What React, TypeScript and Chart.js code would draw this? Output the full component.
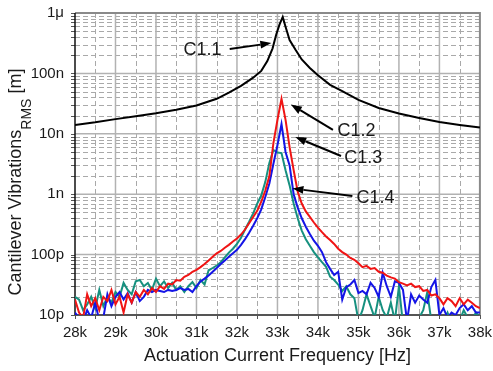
import React, { useEffect, useRef } from 'react';
import { Chart, registerables } from 'chart.js';

Chart.register(...registerables);

// ---------- data (frequency in kHz, vibration RMS in pm) ----------
const freqC11 = [28.0, 28.5, 29.0, 29.5, 30.0, 30.5, 31.0, 31.5, 31.8, 32.1, 32.4, 32.6, 32.75, 32.88, 32.97, 33.05, 33.13, 33.2, 33.3, 33.45, 33.6, 33.8, 34.0, 34.3, 34.6, 35.0, 35.5, 36.0, 36.5, 37.0, 37.5, 38.0];
const vibC11 = [14000, 15500, 17500, 19500, 21800, 25000, 29500, 38000, 48000, 62000, 85000, 110000, 160000, 260000, 440000, 640000, 860000, 590000, 357000, 244000, 170000, 123000, 93000, 64500, 51000, 36400, 26700, 21700, 18300, 15700, 14000, 12700];

const freqSweep = [
  28.0, 28.1, 28.2, 28.3, 28.4, 28.5, 28.6, 28.7, 28.8, 28.9,
  29.0, 29.1, 29.2, 29.3, 29.4, 29.5, 29.6, 29.7, 29.8, 29.9,
  30.0, 30.1, 30.2, 30.3, 30.4, 30.5, 30.6, 30.7, 30.8, 30.9,
  31.0, 31.1, 31.2, 31.3, 31.4, 31.5, 31.6, 31.7, 31.8, 31.9,
  32.0, 32.1, 32.2, 32.3, 32.4, 32.5, 32.6, 32.7, 32.8, 32.9,
  33.0, 33.1, 33.2, 33.3, 33.4, 33.5, 33.6, 33.7, 33.8, 33.9,
  34.0, 34.1, 34.2, 34.3, 34.4, 34.5, 34.6, 34.7, 34.8, 34.9,
  35.0, 35.1, 35.2, 35.3, 35.4, 35.5, 35.6, 35.7, 35.8, 35.9,
  36.0, 36.1, 36.2, 36.3, 36.4, 36.5, 36.6, 36.7, 36.8, 36.9,
  37.0, 37.1, 37.2, 37.3, 37.4, 37.5, 37.6, 37.7, 37.8, 37.9,
  38.0,
];

const vibC12 = [
  18, 11, 9, 22, 14, 19, 12, 20, 17, 26,
  15, 20, 11, 22, 16, 24, 20, 26, 22, 28,
  24, 30, 27, 33, 32, 38, 37, 43, 46, 52,
  56, 62, 70, 80, 92, 105, 115, 130, 145, 165,
  185, 215, 260, 330, 420, 530, 750, 1150, 2000, 7000,
  17000, 38000, 17000, 6000, 2500, 1100, 700, 520, 420, 340,
  280, 235, 200, 175, 150, 125, 110, 100, 88, 82,
  72, 62, 65, 58, 60, 52, 50, 45, 42, 40,
  35, 33, 31, 33, 29, 30, 25, 26, 21, 22,
  19, 15, 19, 17, 14, 19, 15, 18, 16, 14,
  13,
];

const vibC13 = [
  11, 9, 8, 12, 9, 16, 8, 9, 22, 14,
  20, 24, 18, 23, 16, 24, 17, 20, 26, 24,
  26, 25, 24, 26, 25, 26, 28, 26, 27, 24,
  30, 36, 40, 45, 52, 60, 70, 80, 92, 105,
  120, 145, 180, 230, 300, 400, 560, 900, 1500, 3200,
  6500, 14500, 5000, 3000, 1000, 600, 400, 290, 220, 170,
  140, 110, 75, 58, 46, 52, 18, 29, 32, 38,
  23, 25, 22, 34, 28, 20, 50, 30, 20, 36,
  34, 26, 8, 22, 16, 21, 18, 16, 29, 38,
  10, 13, 9, 11, 10, 13, 15, 12, 14, 11,
  11,
];

const vibC14 = [
  20, 18, 12, 15, 20, 13, 26, 14, 20, 16,
  24, 20, 34, 26, 22, 36, 38, 30, 34, 26,
  40, 30, 36, 28, 34, 26, 30, 24, 30, 35,
  28, 38, 32, 55, 60, 66, 75, 90, 108, 125,
  150, 190, 260, 350, 480, 700, 950, 1600, 3300, 5400,
  4900, 4800, 2500, 1400, 700, 400, 250, 180, 140, 110,
  90, 75, 63, 43, 38, 32, 25, 30, 22, 19,
  8, 12, 22, 14, 9, 20, 12, 9, 16, 8,
  30, 7, 9, 8, 7, 9, 12, 24, 8, 7,
  9, 8, 11, 7, 9, 8, 12, 9, 8, 11,
  9,
];

const seriesNames = ['C1.1', 'C1.2', 'C1.3', 'C1.4'];
const seriesColors = ['#000000', '#f01414', '#1414e6', '#16907f'];

const xMin = 28;
const xMax = 38;
const yMin = 10;
const yMax = 1e6;
const yTickValues = [10, 100, 1000, 10000, 100000, 1000000];
const yTickLabels = ['10p', '100p', '1n', '10n', '100n', '1\u03bc'];

const xTitle = 'Actuation Current Frequency [Hz]';
const yTitleMain = 'Cantilever Vibrations';
const yTitleSub = 'RMS';
const yTitleTail = ' [m]';

// annotation callouts, in data units (kHz, pm)
const callouts = [
  { label: 'C1.1', textF: 31.15, textV: 244000, fromF: 31.82, fromV: 253000, toF: 32.85, toV: 318000 },
  { label: 'C1.2', textF: 34.95, textV: 11100, fromF: 34.37, fromV: 11600, toF: 33.33, toV: 30500 },
  { label: 'C1.3', textF: 35.12, textV: 3970, fromF: 34.57, fromV: 4290, toF: 33.44, toV: 8850 },
  { label: 'C1.4', textF: 35.42, textV: 865, fromF: 34.85, fromV: 934, toF: 33.37, toV: 1242 },
];

const FONT = '"Liberation Sans", Arial, sans-serif';

const framePlugin = {
  id: 'framePlugin',
  beforeDatasetsDraw(chart: any) {
    const { ctx, chartArea } = chart;
    const xs = chart.scales.x;
    const ys = chart.scales.y;
    const { left, right, top, bottom } = chartArea;
    ctx.save();
    // minor dashed verticals
    ctx.lineWidth = 1;
    ctx.strokeStyle = '#a9a9a9';
    ctx.setLineDash([5, 3]);
    for (let f = xMin + 0.5; f < xMax; f += 1) {
      const px = Math.round(xs.getPixelForValue(f)) + 0.5;
      ctx.beginPath();
      ctx.moveTo(px, top);
      ctx.lineTo(px, bottom);
      ctx.stroke();
    }
    // minor dashed horizontals
    for (let d = yMin; d < yMax; d *= 10) {
      for (let k = 2; k <= 9; k++) {
        const py = Math.round(ys.getPixelForValue(d * k)) + 0.5;
        ctx.beginPath();
        ctx.moveTo(left, py);
        ctx.lineTo(right, py);
        ctx.stroke();
      }
    }
    ctx.setLineDash([]);
    // major solid
    ctx.strokeStyle = '#b2b2b2';
    ctx.lineWidth = 1.5;
    for (let f = xMin + 1; f < xMax; f += 1) {
      const px = xs.getPixelForValue(f);
      ctx.beginPath();
      ctx.moveTo(px, top);
      ctx.lineTo(px, bottom);
      ctx.stroke();
    }
    for (const v of yTickValues.slice(1, -1)) {
      const py = ys.getPixelForValue(v);
      ctx.beginPath();
      ctx.moveTo(left, py);
      ctx.lineTo(right, py);
      ctx.stroke();
    }
    // tick marks
    ctx.strokeStyle = '#555';
    ctx.lineWidth = 1;
    for (let f = xMin; f <= xMax + 0.001; f += 0.5) {
      const px = Math.round(xs.getPixelForValue(f)) + 0.5;
      ctx.beginPath();
      ctx.moveTo(px, bottom);
      ctx.lineTo(px, bottom + 4);
      ctx.stroke();
    }
    for (let d = yMin; d <= yMax; d *= 10) {
      for (let k = 1; k <= 9; k++) {
        if (d * k > yMax) break;
        const py = Math.round(ys.getPixelForValue(d * k)) + 0.5;
        ctx.beginPath();
        ctx.moveTo(left - 4, py);
        ctx.lineTo(left, py);
        ctx.stroke();
      }
    }
    // frame
    ctx.strokeStyle = '#8a8a8a';
    ctx.lineWidth = 2;
    ctx.beginPath();
    ctx.moveTo(left, top);
    ctx.lineTo(right, top);
    ctx.lineTo(right, bottom);
    ctx.stroke();
    ctx.strokeStyle = '#555';
    ctx.lineWidth = 2;
    ctx.beginPath();
    ctx.moveTo(left, bottom);
    ctx.lineTo(right, bottom);
    ctx.stroke();
    ctx.strokeStyle = '#111';
    ctx.lineWidth = 1.5;
    ctx.beginPath();
    ctx.moveTo(left, top);
    ctx.lineTo(left, bottom);
    ctx.stroke();
    ctx.restore();
  },
  afterDraw(chart: any) {
    const { ctx, chartArea } = chart;
    const xs = chart.scales.x;
    const ys = chart.scales.y;
    ctx.save();
    ctx.fillStyle = '#1a1a1a';
    // x title
    ctx.font = `18px ${FONT}`;
    ctx.textAlign = 'center';
    ctx.textBaseline = 'alphabetic';
    ctx.fillText(xTitle, (chartArea.left + chartArea.right) / 2, 361);
    // y title with subscript
    ctx.font = `18px ${FONT}`;
    const w1 = ctx.measureText(yTitleMain).width;
    const w3 = ctx.measureText(yTitleTail).width;
    ctx.font = `14px ${FONT}`;
    const w2 = ctx.measureText(yTitleSub).width;
    const total = w1 + w2 + w3;
    const cy = 182;
    ctx.translate(21, cy + total / 2);
    ctx.rotate(-Math.PI / 2);
    ctx.textAlign = 'left';
    ctx.font = `18px ${FONT}`;
    ctx.fillText(yTitleMain, 0, 0);
    ctx.font = `14px ${FONT}`;
    ctx.fillText(yTitleSub, w1, 10);
    ctx.font = `18px ${FONT}`;
    ctx.fillText(yTitleTail, w1 + w2, 0);
    ctx.setTransform(1, 0, 0, 1, 0, 0);
    // callouts
    for (const c of callouts) {
      const tx = xs.getPixelForValue(c.textF);
      const ty = ys.getPixelForValue(c.textV);
      const fx = xs.getPixelForValue(c.fromF);
      const fy = ys.getPixelForValue(c.fromV);
      const px = xs.getPixelForValue(c.toF);
      const py = ys.getPixelForValue(c.toV);
      ctx.font = `18px ${FONT}`;
      ctx.textAlign = 'center';
      ctx.textBaseline = 'middle';
      ctx.fillStyle = '#1a1a1a';
      ctx.fillText(c.label, tx, ty);
      const ang = Math.atan2(py - fy, px - fx);
      const hl = 11;
      const hw = 4;
      const bx = px - hl * Math.cos(ang);
      const by = py - hl * Math.sin(ang);
      ctx.strokeStyle = '#000';
      ctx.lineWidth = 2;
      ctx.beginPath();
      ctx.moveTo(fx, fy);
      ctx.lineTo(bx, by);
      ctx.stroke();
      ctx.fillStyle = '#000';
      ctx.beginPath();
      ctx.moveTo(px, py);
      ctx.lineTo(bx + hw * Math.sin(ang), by - hw * Math.cos(ang));
      ctx.lineTo(bx - hw * Math.sin(ang), by + hw * Math.cos(ang));
      ctx.closePath();
      ctx.fill();
    }
    ctx.restore();
  },
};

function toPoints(xs: number[], ys: number[]) {
  return xs.map((x, i) => ({ x, y: ys[i] }));
}

export default function App() {
  const ref = useRef<HTMLCanvasElement | null>(null);
  useEffect(() => {
    if (!ref.current) return;
    const seriesData = [
      toPoints(freqC11, vibC11),
      toPoints(freqSweep, vibC12),
      toPoints(freqSweep, vibC13),
      toPoints(freqSweep, vibC14),
    ];
    const chart = new Chart(ref.current, {
      type: 'line',
      data: {
        datasets: seriesData.map((d, i) => ({
          label: seriesNames[i],
          data: d,
          borderColor: seriesColors[i],
          backgroundColor: seriesColors[i],
          borderWidth: 2,
          pointRadius: 0,
          tension: 0,
          fill: false,
        })),
      },
      options: {
        animation: false,
        responsive: false,
        devicePixelRatio: 1,
        parsing: false as any,
        layout: { padding: { top: 13, right: 12, left: 0, bottom: 0 } },
        plugins: { legend: { display: false }, tooltip: { enabled: false }, title: { display: false } },
        scales: {
          x: {
            type: 'linear',
            min: xMin,
            max: xMax,
            grid: { display: false },
            border: { display: false },
            ticks: {
              stepSize: 1,
              autoSkip: false,
              maxRotation: 0,
              padding: 1,
              color: '#1a1a1a',
              font: { family: FONT, size: 15 },
              callback: (v: any) => `${v}k`,
            },
            afterFit: (s: any) => { s.height = 56; },
          },
          y: {
            type: 'logarithmic',
            min: yMin,
            max: yMax,
            grid: { display: false },
            border: { display: false },
            afterBuildTicks: (s: any) => { s.ticks = yTickValues.map((v) => ({ value: v })); },
            ticks: {
              autoSkip: false,
              padding: 3,
              color: '#1a1a1a',
              font: { family: FONT, size: 15 },
              callback: (v: any) => {
                const i = yTickValues.indexOf(Number(v));
                return i >= 0 ? yTickLabels[i] : '';
              },
            },
            afterFit: (s: any) => { s.width = 75; },
          },
        },
      },
      plugins: [framePlugin],
    });
    return () => chart.destroy();
  }, []);
  return (
    <div style={{ position: 'fixed', left: 0, top: 0, width: 493, height: 371, background: '#fff' }}>
      <canvas ref={ref} width={493} height={371} style={{ width: 493, height: 371, display: 'block' }} />
    </div>
  );
}
